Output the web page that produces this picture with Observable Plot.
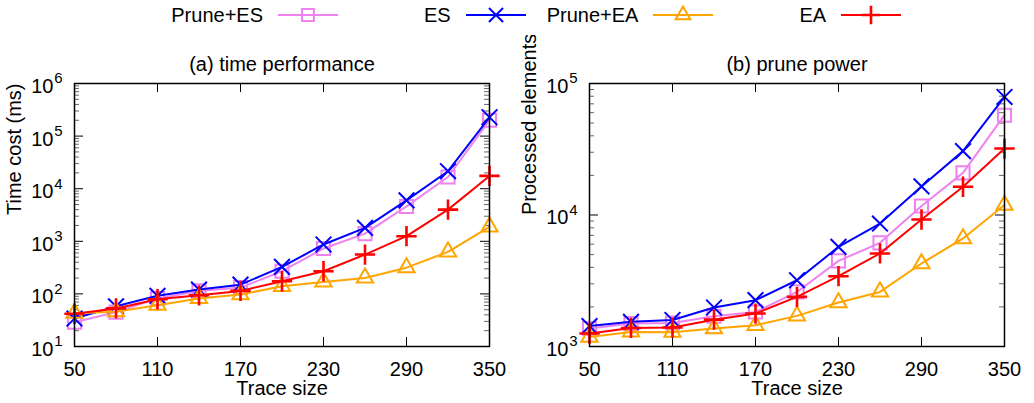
<!DOCTYPE html>
<html><head><meta charset="utf-8">
<script src="https://cdn.jsdelivr.net/npm/d3@7"></script>
<script src="https://cdn.jsdelivr.net/npm/@observablehq/plot@0.6"></script>
<style>
body{margin:0;background:#fff;font-family:"Liberation Sans",Arial,sans-serif;}
#legend{position:relative;width:1034px;height:35px;}
.lt{position:absolute;top:3px;height:24px;line-height:24px;font-size:20px;text-align:right;width:120px;color:#000;}
.ls{position:absolute;top:0;}
#charts{display:flex;width:1034px;}
</style></head><body>
<div id="legend"></div><div id="charts"></div>
<script>
// ---------- data ----------
const traceSizes = [50, 80, 110, 140, 170, 200, 230, 260, 290, 320, 350];
const xTickValues = [50, 110, 170, 230, 290, 350];
const seriesNames = ["Prune+ES", "ES", "Prune+EA", "EA"];
const seriesColors = ["#ee82ee", "#0000ff", "#ffa500", "#ff0000"];
const seriesSymbols = ["square", "times", "triangle", "plus"];

// (a) time performance, ms
const timePruneES = [29, 45, 82, 114, 132, 270, 730, 1400, 4600, 16700, 200000];
const timeES      = [34, 58, 92, 121, 150, 326, 870, 1800, 6000, 21500, 228000];
const timePruneEA = [43, 46, 61, 82, 97, 140, 169, 201, 315, 630, 1880];
const timeEA      = [42, 53, 79, 94, 114, 174, 270, 560, 1250, 4000, 17500];

// (b) prune power, processed elements
const elemPruneES = [1370, 1495, 1510, 1700, 1830, 2600, 4480, 6140, 11700, 20900, 57400];
const elemES      = [1430, 1540, 1590, 1980, 2250, 3190, 5720, 8610, 16500, 30600, 79000];
const elemPruneEA = [1180, 1290, 1285, 1370, 1450, 1710, 2160, 2600, 4280, 6630, 11900];
const elemEA      = [1256, 1384, 1393, 1600, 1780, 2385, 3425, 5100, 9240, 16400, 32000];

const timeMajors = [1e1, 1e2, 1e3, 1e4, 1e5, 1e6];
const elemMajors = [1e3, 1e4, 1e5];

// ---------- styling ----------
const FONT = "'Liberation Sans', Arial, sans-serif";
const symbolRadius = {square: 7.4, times: 7.2, triangle: 6.0, plus: 6.6};
const symbolStroke = {square: 2, times: 2, triangle: 2, plus: 2.6};
const d3Symbols = {square: d3.symbolSquare, times: d3.symbolTimes || d3.symbolX, triangle: d3.symbolTriangle, plus: d3.symbolPlus || d3.symbolCross};

function minorsOf(majors) {
  const out = [];
  for (let i = 0; i < majors.length - 1; i++) for (let m = 2; m <= 9; m++) out.push(majors[i] * m);
  return out;
}

// ---------- legend ----------
const legend = document.getElementById("legend");
seriesNames.forEach((name, i) => {
  const right = 263 + i * 187.7;
  const t = document.createElement("div");
  t.className = "lt"; t.textContent = name;
  t.style.left = (right - 120) + "px";
  legend.appendChild(t);
  const svg = d3.create("svg").attr("class", "ls").attr("width", 64).attr("height", 30)
    .style("left", (right + 14) + "px");
  svg.append("line").attr("x1", 1).attr("x2", 61).attr("y1", 15).attr("y2", 15)
    .attr("stroke", seriesColors[i]).attr("stroke-width", 2);
  const sym = seriesSymbols[i];
  const r = symbolRadius[sym] * 0.9;
  svg.append("path").attr("transform", "translate(31,15)")
    .attr("d", d3.symbol(d3Symbols[sym], Math.PI * r * r)())
    .attr("fill", "none").attr("stroke", seriesColors[i]).attr("stroke-width", symbolStroke[sym]);
  legend.appendChild(svg.node());
});

// ---------- panels ----------
function panel({values, majors, title, ylabel, ml, mr}) {
  const W = 517, H = 368, mt = 48, mb = 57;
  const pw = W - ml - mr, ph = H - mt - mb;
  const rows = [];
  seriesNames.forEach((s, i) => traceSizes.forEach((x, j) => rows.push({s, x, y: values[i][j]})));
  const minors = minorsOf(majors);
  const inner = xTickValues.slice(1, -1);
  const marks = [
    Plot.ruleY(majors, {y: d => d, insetRight: pw - 9, strokeWidth: 1}),
    Plot.ruleY(majors, {y: d => d, insetLeft: pw - 9, strokeWidth: 1}),
    Plot.ruleY(minors, {y: d => d, insetRight: pw - 5, strokeWidth: 1, strokeOpacity: 0.6}),
    Plot.ruleY(minors, {y: d => d, insetLeft: pw - 5, strokeWidth: 1, strokeOpacity: 0.6}),
    Plot.ruleX(inner, {x: d => d, insetTop: ph - 9, strokeWidth: 1}),
    Plot.ruleX(inner, {x: d => d, insetBottom: ph - 9, strokeWidth: 1}),
    Plot.axisX(xTickValues, {tickSize: 0, tickPadding: 15, label: null, tickFormat: d => String(d)}),
    Plot.axisY(majors, {tickSize: 0, tickPadding: 21, label: null, tickFormat: () => "10", dy: 3}),
    Plot.text(majors, {y: d => d, text: d => String(Math.round(Math.log10(d))), frameAnchor: "left",
      dx: -12, dy: -5, textAnchor: "end", fontSize: 15}),
    Plot.text([title], {frameAnchor: "top", dy: -19, lineAnchor: "middle"}),
    Plot.text([ylabel], {frameAnchor: "left", dx: -60, rotate: -90, lineAnchor: "middle"}),
    Plot.text(["Trace size"], {frameAnchor: "bottom", dy: 42, lineAnchor: "middle"})
  ];
  seriesNames.forEach((s, i) => {
    const sub = rows.filter(d => d.s === s);
    const sym = seriesSymbols[i];
    marks.push(Plot.line(sub, {x: "x", y: "y", stroke: "s", strokeWidth: 2}));
    marks.push(Plot.dot(sub, {x: "x", y: "y", stroke: "s", symbol: sym,
      r: symbolRadius[sym], strokeWidth: symbolStroke[sym], fill: "none"}));
  });
  marks.push(Plot.frame({strokeWidth: 1.5}));
  return Plot.plot({
    width: W, height: H, marginTop: mt, marginBottom: mb, marginLeft: ml, marginRight: mr,
    style: {fontSize: "20px", fontFamily: FONT, background: "#fff", color: "#000"},
    x: {type: "linear", domain: [50, 350]},
    y: {type: "log", domain: [majors[0], majors[majors.length - 1]]},
    color: {domain: seriesNames, range: seriesColors},
    marks
  });
}

const charts = document.getElementById("charts");
charts.appendChild(panel({
  values: [timePruneES, timeES, timePruneEA, timeEA], majors: timeMajors,
  title: "(a) time performance", ylabel: "Time cost (ms)", ml: 74, mr: 28
}));
charts.appendChild(panel({
  values: [elemPruneES, elemES, elemPruneEA, elemEA], majors: elemMajors,
  title: "(b) prune power", ylabel: "Processed elements", ml: 72, mr: 30
}));
</script>
</body></html>
